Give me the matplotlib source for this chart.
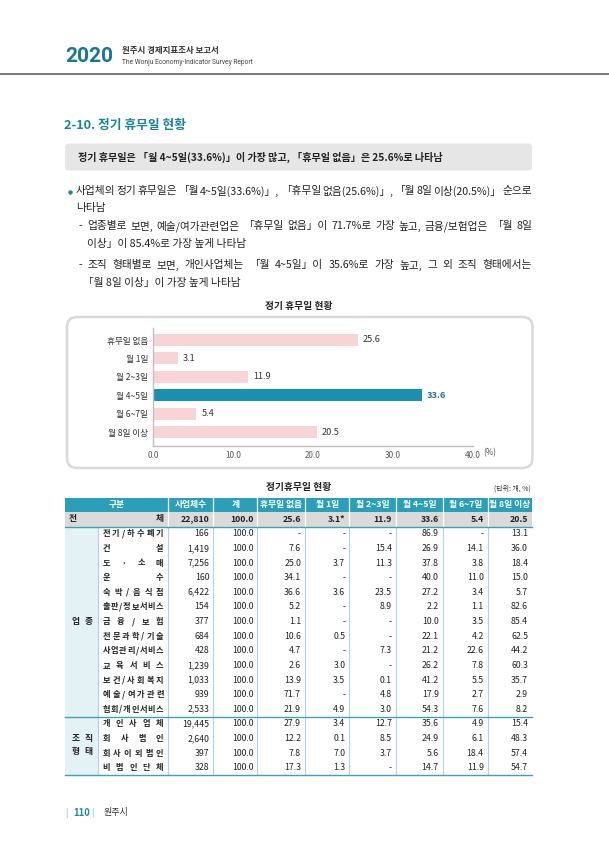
import matplotlib
matplotlib.use('Agg')
import matplotlib.pyplot as plt
from matplotlib.patches import Rectangle, FancyBboxPatch
from matplotlib.lines import Line2D

plt.rcParams['font.family'] = ['Noto Sans CJK KR', 'DejaVu Sans']

# ---------------- data ----------------
chart_categories = ['휴무일 없음', '월 1일', '월 2~3일', '월 4~5일', '월 6~7일', '월 8일 이상']
chart_values = [25.6, 3.1, 11.9, 33.6, 5.4, 20.5]
highlight_index = 3
x_ticks = [0, 10, 20, 30, 40]

table_header = ['구분', '사업체수', '계', '휴무일 없음', '월 1일', '월 2~3일', '월 4~5일', '월 6~7일', '월 8일 이상']
total_row = ['22,810', '100.0', '25.6', '3.1*', '11.9', '33.6', '5.4', '20.5']

industry_labels = ['전기/하수폐기', '건설', '도·소매', '운수', '숙박/음식점', '출판/정보서비스',
                   '금융/보험', '전문과학/기술', '사업관리/서비스', '교육서비스', '보건/사회복지',
                   '예술/여가관련', '협회/개인서비스']
org_labels = ['개인사업체', '회사법인', '회사이외법인', '비법인단체']

counts = [166, 1419, 7256, 160, 6422, 154, 377, 684, 428, 1239, 1033, 939, 2533,
          19445, 2640, 397, 328]
totals = [100.0] * 17
none_off = [None, 7.6, 25.0, 34.1, 36.6, 5.2, 1.1, 10.6, 4.7, 2.6, 13.9, 71.7, 21.9,
            27.9, 12.2, 7.8, 17.3]
day1 = [None, None, 3.7, None, 3.6, None, None, 0.5, None, 3.0, 3.5, None, 4.9,
        3.4, 0.1, 7.0, 1.3]
day2_3 = [None, 15.4, 11.3, None, 23.5, 8.9, None, None, 7.3, None, 0.1, 4.8, 3.0,
          12.7, 8.5, 3.7, None]
day4_5 = [86.9, 26.9, 37.8, 40.0, 27.2, 2.2, 10.0, 22.1, 21.2, 26.2, 41.2, 17.9, 54.3,
          35.6, 24.9, 5.6, 14.7]
day6_7 = [None, 14.1, 3.8, 11.0, 3.4, 1.1, 3.5, 4.2, 22.6, 7.8, 5.5, 2.7, 7.6,
          4.9, 6.1, 18.4, 11.9]
day8 = [13.1, 36.0, 18.4, 15.0, 5.7, 82.6, 85.4, 62.5, 44.2, 60.3, 35.7, 2.9, 8.2,
        15.4, 48.3, 57.4, 54.7]

# ---------------- style ----------------
TEAL = '#1b8aa3'
TEAL_HDR = '#2a9fb8'
TEXT = '#222222'
PINK = '#f9d4d4'
BAR_HI = '#1a8fae'

W, H = 609, 861
fig = plt.figure(figsize=(W / 100, H / 100), dpi=100)
page = fig.add_axes([0, 0, 1, 1])
page.set_xlim(0, W)
page.set_ylim(H, 0)
page.axis('off')


def justify(items, x0, x1, y, **kw):
    ts = [page.text(0, y, s, ha='left', va='center', **kw) for s in items]
    r = fig.canvas.get_renderer()
    ws = [t.get_window_extent(r).width for t in ts]
    if len(ts) == 1:
        ts[0].set_x(x0)
        return
    gap = (x1 - x0 - sum(ws)) / (len(ts) - 1)
    x = x0
    for t, w in zip(ts, ws):
        t.set_x(x)
        x += w + gap


# ---------------- header ----------------
page.text(65, 56.5, '2020', fontsize=15, fontweight='bold', color='#17798f',
          family=['Roboto', 'DejaVu Sans'], va='center', ha='left')
page.text(122, 51, '원주시 경제지표조사 보고서', fontsize=6.1, fontweight='bold', color='#333333',
          va='center', ha='left')
page.text(122, 62.3, 'The Wonju Economy-Indicator Survey Report', fontsize=4.8, color='#444444',
          va='center', ha='left', family=['Roboto', 'DejaVu Sans'])
page.add_line(Line2D([0, W], [73.5, 73.5], color='#6f6f6f', lw=1.3))

# ---------------- section title ----------------
page.text(64, 125, '2-10. 정기 휴무일 현황', fontsize=9.2, fontweight='bold', color='#16849b',
          va='center', ha='left')
page.add_patch(FancyBboxPatch((65, 143.5), 467, 27, boxstyle='round,pad=0,rounding_size=4',
                              fc='#e6e6e6', ec='none'))
page.text(78, 157.5, '정기 휴무일은 「월 4~5일(33.6%)」이 가장 많고, 「휴무일 없음」은 25.6%로 나타남',
          fontsize=7.25, fontweight='bold', color=TEXT, va='center', ha='left')

# ---------------- body text ----------------
bfs = 7.7
page.plot([70], [191.5], marker='o', ms=3.2, color=TEAL, mec='none')
justify('사업체의 정기 휴무일은 「월 4~5일(33.6%)」, 「휴무일 없음(25.6%)」, 「월 8일 이상(20.5%)」 순으로'.split(' '),
        76, 532, 191, fontsize=bfs, color=TEXT)
page.text(76, 208.5, '나타남', fontsize=bfs, color=TEXT, va='center', ha='left')
page.text(79, 226, '-', fontsize=bfs, color=TEXT, va='center', ha='left')
justify('업종별로 보면, 예술/여가관련업은 「휴무일 없음」이 71.7%로 가장 높고, 금융/보험업은 「월 8일'.split(' '),
        87, 532, 226, fontsize=bfs, color=TEXT)
page.text(87, 243.5, '이상」이 85.4%로 가장 높게 나타남', fontsize=bfs, color=TEXT, va='center', ha='left')
page.text(79, 265, '-', fontsize=bfs, color=TEXT, va='center', ha='left')
justify('조직 형태별로 보면, 개인사업체는 「월 4~5일」이 35.6%로 가장 높고, 그 외 조직 형태에서는'.split(' '),
        87, 532, 265, fontsize=bfs, color=TEXT)
page.text(83, 283.3, '「월 8일 이상」이 가장 높게 나타남', fontsize=bfs, color=TEXT, va='center', ha='left')

# ---------------- chart ----------------
page.text(298.5, 306, '정기 휴무일 현황', fontsize=7, fontweight='bold', color=TEXT,
          va='center', ha='center')
page.add_patch(FancyBboxPatch((67, 317), 465.5, 151, boxstyle='round,pad=0,rounding_size=10',
                              fc='white', ec='#d9d9d9', lw=1.8))

x0p, x1p, ytp, ybp = 153.3, 472.7, 328.3, 445.7
ax = fig.add_axes([x0p / W, 1 - ybp / H, (x1p - x0p) / W, (ybp - ytp) / H])
ax.patch.set_alpha(0)
ypos = list(range(len(chart_values)))
colors = [BAR_HI if i == highlight_index else PINK for i in ypos]
ax.barh(ypos, chart_values, height=0.65, color=colors)
ax.set_xlim(0, 40)
ax.set_ylim(5.725, -0.633)
ax.set_yticks(ypos)
ax.set_yticklabels(chart_categories, fontsize=6.2, color='#333333')
ax.set_xticks(x_ticks)
ax.set_xticklabels([f'{v:.1f}' for v in x_ticks], fontsize=5.8, color='#555555')
ax.tick_params(axis='both', length=0)
ax.tick_params(axis='y', pad=3.6)
ax.tick_params(axis='x', pad=3.5)
for s in ['top', 'right']:
    ax.spines[s].set_visible(False)
for s in ['left', 'bottom']:
    ax.spines[s].set_color('#c0c0c0')
    ax.spines[s].set_linewidth(1.0)
for i, v in enumerate(chart_values):
    hi = i == highlight_index
    ax.annotate(f'{v:.1f}', (v, i), xytext=(3.6, 0), textcoords='offset points',
                va='center', ha='left', fontsize=6.6,
                fontweight='bold' if hi else 'normal',
                color='#2b6d9a' if hi else '#333333')
page.text(483, 452.5, '(%)', fontsize=5.8, color='#555555', va='center', ha='left')

# ---------------- table ----------------
page.text(298.5, 487.3, '정기휴무일 현황', fontsize=7, fontweight='bold', color=TEXT,
          va='center', ha='center')
page.text(531, 489, '(단위: 개, %)', fontsize=5, color='#333333', va='center', ha='right')

cx = [65, 98, 168, 213.3, 257.3, 305, 349.3, 396, 442.7, 487.7, 532]
h_top, h_bot, t_bot = 497.5, 511.5, 526.5
pitch = 14.62
n_rows = len(counts)
b_bot = t_bot + n_rows * pitch
tfs = 6.3

# header row
page.add_patch(Rectangle((cx[0], h_top), cx[-1] - cx[0], h_bot - h_top, fc=TEAL_HDR, ec='none'))
for x in cx[2:-1]:
    page.add_line(Line2D([x, x], [h_top, h_bot], color='white', lw=0.9))
hx = [(cx[0] + cx[2]) / 2] + [(cx[i] + cx[i + 1]) / 2 for i in range(2, len(cx) - 1)]
for x, lab in zip(hx, table_header):
    page.text(x, (h_top + h_bot) / 2, lab, fontsize=tfs, fontweight='bold', color='white',
              va='center', ha='center')

# total row
page.add_patch(Rectangle((cx[0], h_bot), cx[-1] - cx[0], t_bot - h_bot, fc='#dadada', ec='none'))
for x in cx[2:-1]:
    page.add_line(Line2D([x, x], [h_bot, t_bot], color='white', lw=0.9))
ty = (h_bot + t_bot) / 2
page.text(69, ty, '전', fontsize=tfs, fontweight='bold', color=TEXT, va='center', ha='left')
page.text(164, ty, '체', fontsize=tfs, fontweight='bold', color=TEXT, va='center', ha='right')
for j, val in enumerate(total_row):
    page.text(cx[j + 3] - 4, ty, val, fontsize=tfs, fontweight='bold', color=TEXT,
              va='center', ha='right')

# body
page.add_patch(Rectangle((cx[0], t_bot), cx[1] - cx[0], b_bot - t_bot, fc='#e4f1f5', ec='none'))
for x in cx[1:-1]:
    page.add_line(Line2D([x, x], [t_bot, b_bot], color='#a9d6e1', lw=0.8))
sep = t_bot + len(industry_labels) * pitch
for yy in [t_bot, sep, b_bot]:
    page.add_line(Line2D([cx[0], cx[-1]], [yy, yy], color='#3aa3bb', lw=1.0))

row_labels = industry_labels + org_labels
cols = [counts, totals, none_off, day1, day2_3, day4_5, day6_7, day8]
for i in range(n_rows):
    yc = t_bot + (i + 0.5) * pitch
    justify(list(row_labels[i]), 102.5, 163.5, yc, fontsize=5.9, fontweight='bold', color=TEXT)
    for j, col in enumerate(cols):
        v = col[i]
        if v is None:
            s = '-'
        elif j == 0:
            s = f'{v:,}'
        else:
            s = f'{v:.1f}'
        page.text(cx[j + 3] - 4, yc, s, fontsize=tfs, color=TEXT, va='center', ha='right')

# group labels
gy1 = t_bot + 6.5 * pitch
page.text(75.5, gy1, '업', fontsize=tfs, fontweight='bold', color=TEXT, va='center', ha='center')
page.text(88.5, gy1, '종', fontsize=tfs, fontweight='bold', color=TEXT, va='center', ha='center')
gy2 = t_bot + 14.5 * pitch
page.text(75.5, gy2, '조', fontsize=tfs, fontweight='bold', color=TEXT, va='center', ha='center')
page.text(88.5, gy2, '직', fontsize=tfs, fontweight='bold', color=TEXT, va='center', ha='center')
page.text(75.5, gy2 + 13.5, '형', fontsize=tfs, fontweight='bold', color=TEXT, va='center', ha='center')
page.text(88.5, gy2 + 13.5, '태', fontsize=tfs, fontweight='bold', color=TEXT, va='center', ha='center')

# ---------------- footer ----------------
page.text(66, 813, '|', fontsize=6.5, color='#7cc3d3', va='center', ha='center')
page.text(73, 813, '110', fontsize=6.8, fontweight='bold', color='#1b8aa3', va='center', ha='left')
page.text(92.7, 813, '|', fontsize=6.5, color='#7cc3d3', va='center', ha='center')
page.text(104, 813, '원주시', fontsize=6.5, color='#333333', va='center', ha='left')

fig.savefig('out.png', dpi=100)
